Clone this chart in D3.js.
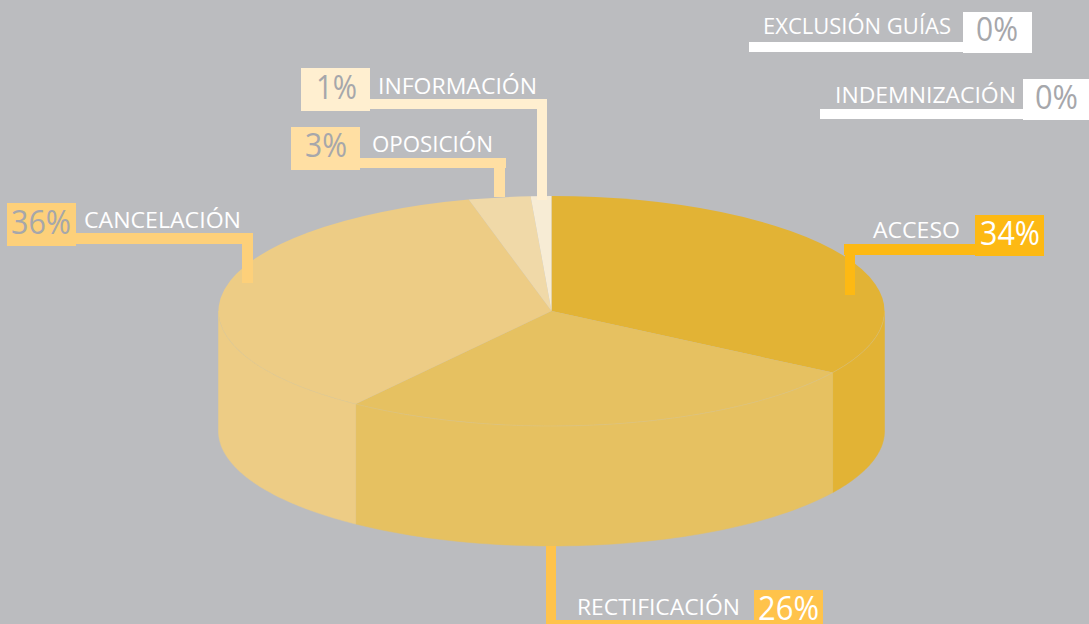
<!DOCTYPE html>
<html><head><meta charset="utf-8">
<script src="https://cdn.jsdelivr.net/npm/d3@7"></script>
<style>html,body{margin:0;padding:0;background:#bbbcbf;overflow:hidden}svg{display:block}text{font-family:"Open Sans",sans-serif}</style>
</head><body><svg id="c" width="1089" height="624"></svg>
<script>
const categories = ["ACCESO","RECTIFICACIÓN","CANCELACIÓN","OPOSICIÓN","INFORMACIÓN","EXCLUSIÓN GUÍAS","INDEMNIZACIÓN"];
const values = [34,26,36,3,1,0,0];
const pctLabels = ["34%","26%","36%","3%","1%","0%","0%"];
const sliceColors = ["#e2b335","#e6c161","#edcc85","#f0d9a8","#f7ecd5","#ffffff","#ffffff"];
const calloutColors = ["#fdb913","#ffc34b","#fdd07a","#ffdfa3","#ffefd0","#ffffff","#ffffff"];
const pctColors = ["#ffffff","#ffffff","#a6a7ab","#a6a7ab","#a6a7ab","#a6a7ab","#a6a7ab"];

// layout of the callouts (box, leader segments, text extents)
const calloutLayout = [
 {box:[975,215,69,41],segs:[[844,244,131,11],[845,244,10,51]],txt:[873,87,238],pct:[980,60,245]},
 {box:[754,590,69,34],segs:[[546,546,10,78],[546,620,208,4]],txt:[577,163,615],pct:[758,61,620]},
 {box:[7,203,69,43],segs:[[76,233,177,11],[242,233,11,50]],txt:[84,157,228],pct:[11,60,234]},
 {box:[291,127,69,43],segs:[[360,158,146,10],[494,158,11,39]],txt:[372,121,152],pct:[305,42,157]},
 {box:[301,68,69,43],segs:[[370,99,177,10],[537,99,10,101]],txt:[378,159,94],pct:[316,41,99]},
 {box:[963,12,69,41],segs:[[749,42,214,10]],txt:[763,188,34],pct:[976,42,41]},
 {box:[1023,79,66,41],segs:[[820,109,203,10]],txt:[835,181,103],pct:[1035,43,109]}
];

const cx=551.5, cy=311, rx=333, ry=115, depth=120;
const svg=d3.select("#c");
const pie=d3.pie().sort(null).value(d=>d)(values);

// side wall of the disc
const xAt=d3.scaleLinear().domain([-1,1]).range([cx-rx,cx+rx]);
const yAt=d3.scaleLinear().domain([-1,1]).range([cy-ry,cy+ry]);
const wall=d3.line().x(p=>xAt(Math.sin(p[0]))).y(p=>yAt(-Math.cos(p[0]))+p[1]);
const lo=Math.PI/2, hi=Math.PI*1.5;
pie.forEach((s,i)=>{
  const a=Math.max(s.startAngle,lo), b=Math.min(s.endAngle,hi);
  if(b<=a) return;
  const ang=d3.range(0,61).map(k=>a+(b-a)*k/60);
  const pts=ang.map(t=>[t,0]).concat(ang.slice().reverse().map(t=>[t,depth]));
  svg.append("path").attr("d",wall(pts)+"Z").attr("fill",sliceColors[i]).attr("stroke",sliceColors[i]).attr("stroke-width",.5);
});

// top surface
const arc=d3.arc().innerRadius(0).outerRadius(rx);
const topFace=svg.append("g").attr("transform",`translate(${cx},${cy}) scale(1,${ry/rx})`);
topFace.selectAll("path").data(pie.filter(s=>s.value>0)).join("path")
  .attr("d",arc).attr("fill",(s)=>sliceColors[s.index]);

// faint rim line along the front
pie.forEach((s,i)=>{
  const a=Math.max(s.startAngle,lo), b=Math.min(s.endAngle,hi);
  if(b<=a) return;
  const ang=d3.range(0,61).map(k=>a+(b-a)*k/60).map(t=>[t,0]);
  svg.append("path").attr("d",wall(ang)).attr("fill","none").attr("stroke","#d9c99a").attr("stroke-width",.7).attr("opacity",.45);
});

// callouts
categories.forEach((name,i)=>{
  const L=calloutLayout[i], g=svg.append("g");
  L.segs.forEach(q=>g.append("rect").attr("x",q[0]).attr("y",q[1]).attr("width",q[2]).attr("height",q[3]).attr("fill",calloutColors[i]));
  g.append("rect").attr("x",L.box[0]).attr("y",L.box[1]).attr("width",L.box[2]).attr("height",L.box[3]).attr("fill",calloutColors[i]);
  g.append("text").text(name).attr("x",L.txt[0]).attr("y",L.txt[2]-0.5).attr("font-size",22.5).attr("fill","#fff")
    .attr("textLength",L.txt[1]).attr("lengthAdjust","spacingAndGlyphs");
  g.append("text").text(pctLabels[i]).attr("x",L.pct[0]).attr("y",L.pct[2]).attr("font-size",32).attr("fill",pctColors[i])
    .attr("textLength",L.pct[1]).attr("lengthAdjust","spacingAndGlyphs");
});
</script></body></html>
